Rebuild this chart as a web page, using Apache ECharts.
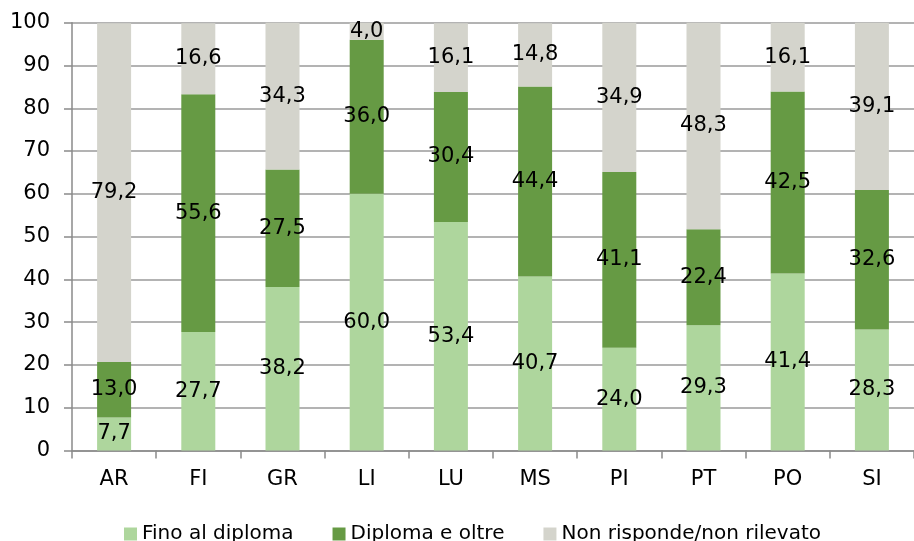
<!DOCTYPE html>
<html>
<head>
<meta charset="utf-8">
<script src="https://cdn.jsdelivr.net/npm/echarts@6/dist/echarts.min.js"></script>
<style>
  html, body { margin: 0; padding: 0; background: #ffffff; }
  #chart { width: 914px; height: 541px; }
</style>
</head>
<body>
<div id="chart"></div>
<script>
// Province codes along the category axis
const categories = ['AR', 'FI', 'GR', 'LI', 'LU', 'MS', 'PI', 'PT', 'PO', 'SI'];

// Percentage shares per province
const finoAlDiploma   = [7.7, 27.7, 38.2, 60.0, 53.4, 40.7, 24.0, 29.3, 41.4, 28.3];
const diplomaEOltre   = [13.0, 55.6, 27.5, 36.0, 30.4, 44.4, 41.1, 22.4, 42.5, 32.6];
const nonRisponde     = [79.2, 16.6, 34.3, 4.0, 16.1, 14.8, 34.9, 48.3, 16.1, 39.1];

const seriesNames = ['Fino al diploma', 'Diploma e oltre', 'Non risponde/non rilevato'];
const seriesColors = ['#aed69d', '#669a44', '#d4d4cc'];

const FONT = 'DejaVu Sans';
const fmt = p => p.value.toFixed(1).replace('.', ',');

function barSeries(name, data, color) {
  return {
    name: name,
    type: 'bar',
    stack: 'tot',
    barWidth: 34,
    data: data,
    itemStyle: { color: color },
    label: {
      show: true,
      position: 'inside',
      formatter: fmt,
      color: '#000000',
      fontFamily: FONT,
      fontSize: 21
    }
  };
}

const chart = echarts.init(document.getElementById('chart'), null, { renderer: 'canvas' });
chart.setOption({
  animation: false,
  backgroundColor: '#ffffff',
  grid: { left: 72, right: -9, top: 22.7, bottom: 90.5, containLabel: false },
  legend: {
    top: 519,
    left: 119,
    itemWidth: 13,
    itemHeight: 13,
    itemGap: 39,
    icon: 'rect',
    textStyle: { fontFamily: FONT, fontSize: 20, color: '#000000' },
    data: seriesNames
  },
  xAxis: {
    type: 'category',
    data: categories,
    axisLine: { lineStyle: { color: '#8a8a8a', width: 1.5 } },
    axisTick: { show: true, length: 8, lineStyle: { color: '#8a8a8a', width: 1.5 } },
    axisLabel: { fontFamily: FONT, fontSize: 21, color: '#000000', margin: 19 }
  },
  yAxis: {
    type: 'value',
    min: 0,
    max: 100,
    interval: 10,
    axisLine: { show: true, lineStyle: { color: '#8a8a8a', width: 1.5 } },
    axisTick: { show: true, length: 8, lineStyle: { color: '#8a8a8a', width: 1.5 } },
    splitLine: { show: true, lineStyle: { color: '#9a9a9a', width: 1.5 } },
    axisLabel: { fontFamily: FONT, fontSize: 21, color: '#000000', margin: 22 }
  },
  series: [
    barSeries(seriesNames[0], finoAlDiploma, seriesColors[0]),
    barSeries(seriesNames[1], diplomaEOltre, seriesColors[1]),
    barSeries(seriesNames[2], nonRisponde, seriesColors[2])
  ]
});
</script>
</body>
</html>
